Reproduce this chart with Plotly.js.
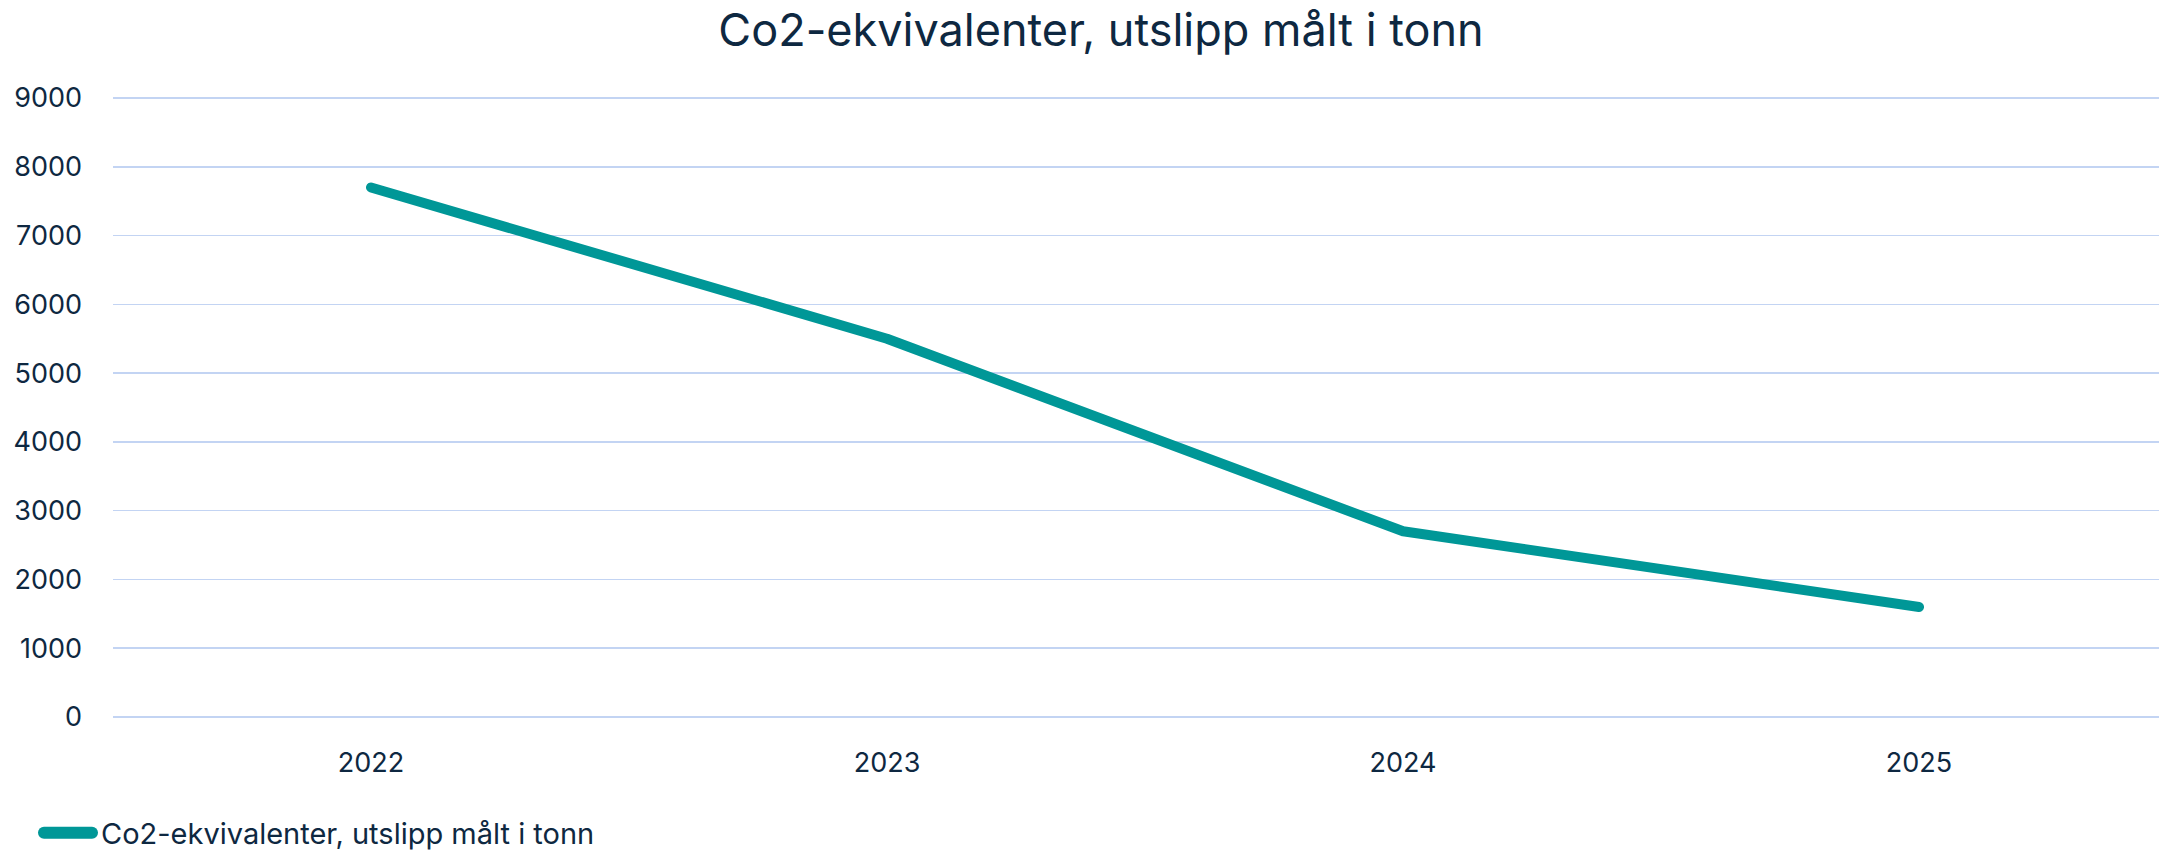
<!DOCTYPE html>
<html>
<head>
<meta charset="utf-8">
<script src="https://cdn.plot.ly/plotly-3.0.1.min.js"></script>
<style>
html, body { margin: 0; padding: 0; background: #fff; }
#chart { width: 2159px; height: 852px; }
path.js-line { stroke-linecap: round; stroke-linejoin: round; }
</style>
</head>
<body>
<div id="chart"></div>
<script>
const years = ["2022", "2023", "2024", "2025"];
const emissions = [7700, 5500, 2700, 1600];
const seriesName = "Co2-ekvivalenter, utslipp målt i tonn";
const chartTitle = "Co2-ekvivalenter, utslipp målt i tonn";
const yTicks = [0, 1000, 2000, 3000, 4000, 5000, 6000, 7000, 8000, 9000];

const textColor = "#0E2841";
const fontFamily = "Inter, 'Noto Sans', sans-serif";

const trace = {
  x: years,
  y: emissions,
  type: "scatter",
  mode: "lines",
  name: seriesName,
  line: { color: "#009797", width: 10 },
  hoverinfo: "x+y"
};

const layout = {
  width: 2159,
  height: 852,
  paper_bgcolor: "#ffffff",
  plot_bgcolor: "#ffffff",
  margin: { l: 113, r: 0, t: 97, b: 134, autoexpand: false },
  font: { family: fontFamily, color: textColor, size: 27 },
  title: {
    text: chartTitle,
    font: { family: fontFamily, size: 45, color: textColor },
    x: 1101 / 2159,
    xanchor: "center",
    xref: "container",
    y: 1 - 30 / 852,
    yanchor: "middle",
    yref: "container"
  },
  xaxis: {
    type: "category",
    range: [-0.5, 3.465],
    showgrid: false,
    zeroline: false,
    showline: false,
    ticks: "",
    tickfont: { family: fontFamily, size: 27, color: textColor },
    ticklabelstandoff: 26
  },
  yaxis: {
    range: [-15, 9015],
    tickvals: yTicks,
    ticktext: yTicks.map(String),
    showgrid: true,
    gridcolor: "#C3D4F3",
    gridwidth: 1.5,
    zeroline: false,
    showline: false,
    ticks: "",
    tickfont: { family: fontFamily, size: 27, color: textColor },
    ticklabelstandoff: 30
  },
  showlegend: true,
  legend: {
    orientation: "h",
    x: -82 / 2046,
    xanchor: "left",
    y: -(833 - 718) / 621,
    yanchor: "middle",
    itemwidth: 60,
    font: { family: fontFamily, size: 29, color: textColor },
    bgcolor: "rgba(0,0,0,0)"
  }
};

Plotly.newPlot("chart", [trace], layout, { displayModeBar: false, staticPlot: true }).then(function (gd) {
  // lengthen the legend swatch to look like the reference's long rounded bar
  gd.querySelectorAll(".legendlines path").forEach(function (p) {
    p.setAttribute("d", "M13,0h48");
    p.style.strokeLinecap = "round";
    p.style.strokeWidth = "12px";
  });
});
</script>
</body>
</html>
